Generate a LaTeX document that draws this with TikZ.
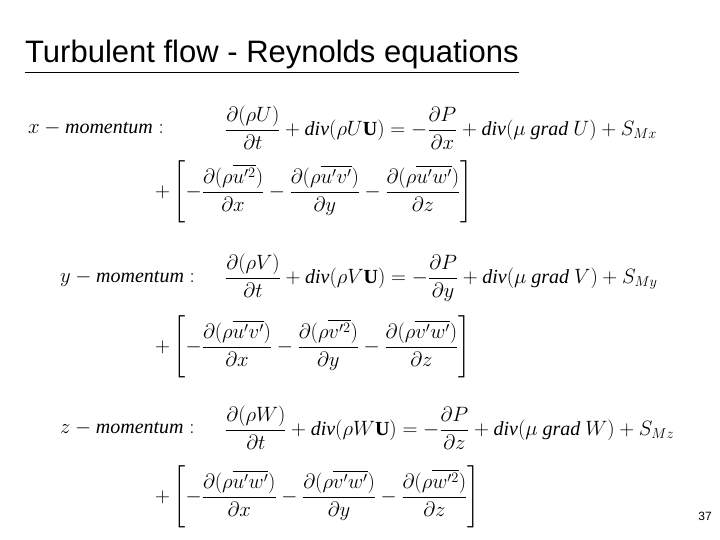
\documentclass[tikz,border=0pt]{standalone}
\usepackage{amsmath}
\usepackage{fontspec}
\setmainfont{Liberation Serif}
\newfontfamily\arialf{Liberation Sans}
\newcommand{\rs}[1]{\overline{#1}}
\begin{document}
\begin{tikzpicture}[x=1pt,y=-1pt,
  eq/.style={anchor=west,inner sep=0pt,font=\fontsize{20}{24}\selectfont}]
\useasboundingbox[fill=white] (0,0) rectangle (720,540);
\node[anchor=west,inner sep=0pt,font=\arialf\fontsize{31}{36}\selectfont] (title) at (25,57) {\underline{Turbulent flow - Reynolds equations}};
% x
\node[eq] (lx) at (28,128) {$x-\mathit{momentum}:$};
\node[eq] (ex) at (225,128) {$\dfrac{\partial(\rho U)}{\partial t}+\mathit{div}(\rho U\mathbf{U})=-\dfrac{\partial P}{\partial x}+\mathit{div}(\mu\ \mathit{grad}\ U)+S_{Mx}$};
\node[eq] (bx) at (155,192) {$+\left[-\dfrac{\partial(\rho\rs{u'^2})}{\partial x}-\dfrac{\partial(\rho\rs{u'v'})}{\partial y}-\dfrac{\partial(\rho\rs{u'w'})}{\partial z}\right]$};
% y
\node[eq] (ly) at (60,278) {$y-\mathit{momentum}:$};
\node[eq] (ey) at (225,278) {$\dfrac{\partial(\rho V)}{\partial t}+\mathit{div}(\rho V\mathbf{U})=-\dfrac{\partial P}{\partial y}+\mathit{div}(\mu\ \mathit{grad}\ V)+S_{My}$};
\node[eq] (by) at (155,347) {$+\left[-\dfrac{\partial(\rho\rs{u'v'})}{\partial x}-\dfrac{\partial(\rho\rs{v'^2})}{\partial y}-\dfrac{\partial(\rho\rs{v'w'})}{\partial z}\right]$};
% z
\node[eq] (lz) at (60,428) {$z-\mathit{momentum}:$};
\node[eq] (ez) at (225,428) {$\dfrac{\partial(\rho W)}{\partial t}+\mathit{div}(\rho W\mathbf{U})=-\dfrac{\partial P}{\partial z}+\mathit{div}(\mu\ \mathit{grad}\ W)+S_{Mz}$};
\node[eq] (bz) at (155,497) {$+\left[-\dfrac{\partial(\rho\rs{u'w'})}{\partial x}-\dfrac{\partial(\rho\rs{v'w'})}{\partial y}-\dfrac{\partial(\rho\rs{w'^2})}{\partial z}\right]$};
\node[anchor=east,inner sep=0pt,font=\arialf\fontsize{12}{14}\selectfont] (pg) at (712,516) {37};
\end{tikzpicture}
\end{document}
